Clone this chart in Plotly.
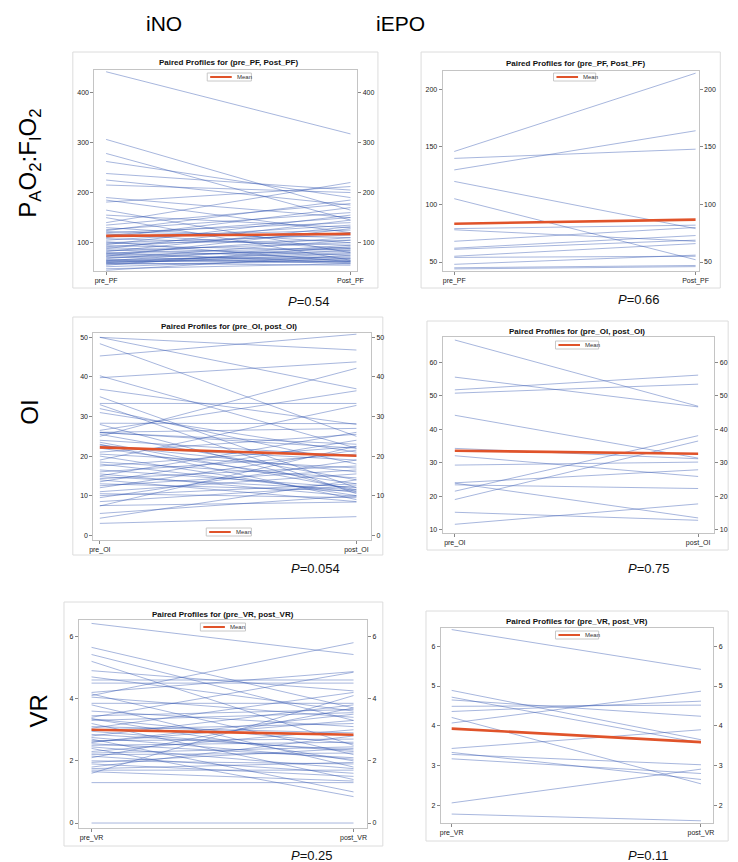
import plotly.graph_objects as go

W, H = 738, 862

# ---------------- data ----------------
col_headers = ["iNO", "iEPO"]
row_labels = ["P<sub>A</sub>O<sub>2</sub>:F<sub>I</sub>O<sub>2</sub>", "OI", "VR"]

pf_labels = ["pre_PF", "Post_PF"]
oi_labels = ["pre_OI", "post_OI"]
vr_labels = ["pre_VR", "post_VR"]

ino_pf_pre = [441, 306, 278, 262, 238, 225, 215, 190, 185, 181, 165, 155, 150, 140, 135,
              130, 126, 124, 122, 120, 118, 115, 112, 110, 108, 105, 102, 100, 98, 96,
              94, 92, 90, 88, 86, 84, 82, 80, 79, 78, 76, 75, 73, 72, 70,
              68, 66, 65, 64, 63, 62, 61, 60, 59, 58, 57, 55, 52, 48, 45]
ino_pf_post = [317, 165, 145, 190, 205, 175, 200, 150, 120, 212, 80, 130, 65, 220, 178,
               100, 160, 185, 110, 140, 88, 150, 125, 170, 95, 135, 62, 115, 105, 155,
               85, 120, 75, 145, 68, 100, 132, 60, 90, 110, 82, 65, 128, 58, 88,
               105, 72, 62, 95, 80, 64, 70, 85, 55, 78, 62, 92, 68, 58, 75]
ino_pf_mean = [113.5, 117.5]

epo_pf_pre = [146, 140, 130, 120, 105, 79, 78, 68, 62, 61, 55, 54, 48, 45, 44]
epo_pf_post = [214, 148, 164, 79, 52, 82, 68, 80, 73, 69, 66, 55, 56, 47, 46]
epo_pf_mean = [83.3, 86.8]

ino_oi_pre = [50.0, 50.0, 48.4, 45.3, 40.3, 39.8, 36.9, 35.0, 33.3, 33.0, 32.0, 31.0, 28.3,
              28.0, 26.5, 25.9, 25.5, 25.0, 23.0, 22.5, 22.0, 21.0, 20.0, 19.0, 18.5, 17.5,
              16.5, 15.0, 14.8, 14.3, 14.0, 13.5, 12.5, 12.0, 11.0, 10.5, 10.0, 9.5, 8.5,
              7.5, 7.4, 5.5, 4.3, 3.0, 26.0, 24.0, 23.5, 22.8, 20.5, 18.0, 16.0, 15.5,
              13.0, 26.0]
ino_oi_post = [46.8, 37.0, 25.0, 50.8, 22.0, 43.8, 28.0, 12.0, 33.3, 10.5, 18.0, 21.0, 28.2,
               11.0, 36.5, 23.0, 14.0, 42.2, 9.0, 19.0, 13.0, 25.5, 10.0, 32.8, 14.5, 22.4,
               12.0, 26.0, 11.5, 17.5, 8.5, 24.0, 16.5, 21.5, 15.5, 9.5, 13.0, 19.0, 12.5,
               8.4, 22.5, 10.0, 14.0, 4.7, 27.0, 20.0, 11.5, 16.0, 17.0, 10.8, 20.5, 9.8,
               11.2, 22.0]
ino_oi_mean = [22.2, 20.1]

epo_oi_pre = [66.7, 55.6, 51.8, 50.8, 44.2, 34.3, 32.1, 29.3, 24.0, 23.9, 23.4, 21.5, 19.0, 15.2, 11.6]
epo_oi_post = [46.9, 46.7, 56.2, 53.5, 31.4, 31.2, 25.9, 30.2, 27.9, 13.5, 22.3, 38.1, 36.5, 12.8, 17.7]
epo_oi_mean = [33.6, 32.7]

ino_vr_pre = [6.42, 5.65, 5.42, 5.20, 4.90, 4.70, 4.60, 4.50, 4.20, 4.15, 4.10, 3.85, 3.80,
              3.60, 3.40, 3.35, 3.30, 3.20, 3.10, 3.00, 2.95, 2.80, 2.70, 2.65, 2.60, 2.55,
              2.50, 2.40, 2.30, 2.20, 2.15, 2.10, 2.00, 1.95, 1.90, 1.80, 1.70, 1.65, 1.60,
              1.30, 0.00, 3.45, 3.35, 2.75, 2.60, 2.45, 2.25, 1.75, 3.05, 4.05, 2.85]
ino_vr_post = [5.42, 3.70, 3.30, 2.50, 4.25, 3.60, 4.60, 4.50, 4.87, 2.20, 5.80, 3.85, 1.80,
               3.10, 4.85, 2.00, 3.55, 1.40, 2.90, 3.20, 2.30, 3.80, 1.00, 2.70, 3.50, 2.10,
               2.60, 0.85, 3.00, 2.25, 1.60, 3.70, 1.90, 2.40, 1.50, 2.80, 1.70, 1.35, 4.10,
               1.30, 0.00, 3.65, 2.55, 2.05, 3.30, 1.75, 2.45, 1.95, 4.20, 3.40, 2.35]
ino_vr_mean = [3.00, 2.84]

epo_vr_pre = [6.42, 4.89, 4.72, 4.65, 4.49, 4.36, 4.21, 4.07, 3.43, 3.33, 3.28, 3.17, 2.06, 1.78]
epo_vr_post = [5.42, 3.65, 3.57, 4.24, 4.52, 4.62, 2.54, 4.87, 3.90, 2.65, 3.02, 2.80, 2.91, 1.61]
epo_vr_mean = [3.93, 3.59]

p_values = ["0.54", "0.66", "0.054", "0.75", "0.25", "0.11"]

pf_ticks = [100, 200, 300, 400]
epo_pf_ticks = [50, 100, 150, 200]
oi_ticks = [0, 10, 20, 30, 40, 50]
epo_oi_ticks = [10, 20, 30, 40, 50, 60]
vr_ticks = [0, 2, 4, 6]
epo_vr_ticks = [2, 3, 4, 5, 6]

panels_data = [
    dict(pre=ino_pf_pre, post=ino_pf_post, mean=ino_pf_mean, labels=pf_labels, ticks=pf_ticks,
         title="Paired Profiles for (pre_PF, Post_PF)", p=p_values[0]),
    dict(pre=epo_pf_pre, post=epo_pf_post, mean=epo_pf_mean, labels=pf_labels, ticks=epo_pf_ticks,
         title="Paired Profiles for (pre_PF, Post_PF)", p=p_values[1]),
    dict(pre=ino_oi_pre, post=ino_oi_post, mean=ino_oi_mean, labels=oi_labels, ticks=oi_ticks,
         title="Paired Profiles for (pre_OI, post_OI)", p=p_values[2]),
    dict(pre=epo_oi_pre, post=epo_oi_post, mean=epo_oi_mean, labels=oi_labels, ticks=epo_oi_ticks,
         title="Paired Profiles for (pre_OI, post_OI)", p=p_values[3]),
    dict(pre=ino_vr_pre, post=ino_vr_post, mean=ino_vr_mean, labels=vr_labels, ticks=vr_ticks,
         title="Paired Profiles for (pre_VR, post_VR)", p=p_values[4]),
    dict(pre=epo_vr_pre, post=epo_vr_post, mean=epo_vr_mean, labels=vr_labels, ticks=epo_vr_ticks,
         title="Paired Profiles for (pre_VR, post_VR)", p=p_values[5]),
]

# ---------------- layout geometry (pixels) ----------------
geom = [
    dict(plot=(84, 62, 352, 263), outer=(62, 44, 373, 280), xr=[-0.048, 1.028], yr=[43.5, 444.5],
         title=(221, 55), leg=(199, 65, 244, 73), pxy=(280, 293)),
    dict(plot=(439, 63, 700, 263), outer=(417, 44, 722, 280), xr=[-0.048, 1.013], yr=[42.2, 215.9],
         title=(574, 56), leg=(552, 65, 595, 73), pxy=(617, 291)),
    dict(plot=(83, 325, 366, 532), outer=(62, 309, 378, 547), xr=[-0.025, 1.057], yr=[-1.2, 51.1],
         title=(221, 318), leg=(198, 520, 244, 528), pxy=(283, 560)),
    dict(plot=(439, 329, 716, 525), outer=(423, 313, 730, 542), xr=[-0.05, 1.067], yr=[9.0, 67.6],
         title=(576, 323), leg=(554, 333, 598, 341), pxy=(627, 560)),
    dict(plot=(68, 612, 362, 820), outer=(53, 594, 378, 838), xr=[-0.049, 1.052], yr=[-0.16, 6.53],
         title=(215, 606), leg=(192, 615, 238, 623), pxy=(283, 847)),
    dict(plot=(437, 620, 715, 815), outer=(422, 603, 730, 833), xr=[-0.044, 1.05], yr=[1.555, 6.46],
         title=(576, 613), leg=(554, 623, 598, 631), pxy=(627, 847)),
]

FONT = "Liberation Sans, Arial, sans-serif"
LINE_COLOR = "rgba(45,80,175,0.42)"
MEAN_COLOR = "#e0532a"
TICK_FONT = dict(size=7, color="#222222", family=FONT)


def px(x):
    return x / W


def py(y):
    return 1 - y / H


fig = go.Figure()
layout = dict(
    width=W, height=H, autosize=False,
    margin=dict(l=0, r=0, t=0, b=0),
    paper_bgcolor="white", plot_bgcolor="white",
    showlegend=False,
    font=dict(family=FONT, color="#222222"),
)
shapes = []
annotations = []

for i, (d, g) in enumerate(zip(panels_data, geom)):
    n = i + 1
    xa = "x" if n == 1 else f"x{n}"
    ya = "y" if n == 1 else f"y{n}"
    yr_name = f"y{n + 6}"
    l, t, r, b = g["plot"]
    cats = d["labels"]

    for a, bb in zip(d["pre"], d["post"]):
        fig.add_trace(go.Scatter(x=cats, y=[a, bb], mode="lines",
                                 line=dict(color=LINE_COLOR, width=1),
                                 xaxis=xa, yaxis=ya, hoverinfo="skip"))
    fig.add_trace(go.Scatter(x=cats, y=d["mean"], mode="lines",
                             line=dict(color=MEAN_COLOR, width=2.6),
                             xaxis=xa, yaxis=ya, name="Mean"))
    # invisible trace so the right-hand axis is drawn
    fig.add_trace(go.Scatter(x=cats, y=d["mean"], mode="lines", opacity=0,
                             line=dict(width=0), xaxis=xa, yaxis=yr_name, hoverinfo="skip"))

    axkey = "xaxis" if n == 1 else f"xaxis{n}"
    aykey = "yaxis" if n == 1 else f"yaxis{n}"
    layout[axkey] = dict(
        domain=[px(l), px(r)], anchor=ya, type="category", categoryorder="array",
        categoryarray=cats, range=g["xr"], showgrid=False, zeroline=False,
        showline=True, linecolor="#c4c4c4", linewidth=1, mirror=True,
        ticks="outside", ticklen=3, tickcolor="#888", tickfont=TICK_FONT,
    )
    layout[aykey] = dict(
        domain=[py(b), py(t)], anchor=xa, range=g["yr"], showgrid=False, zeroline=False,
        showline=True, linecolor="#c4c4c4", linewidth=1, mirror=True,
        ticks="outside", ticklen=3, tickcolor="#888", tickvals=d["ticks"],
        tickfont=TICK_FONT,
    )
    layout[f"yaxis{n + 6}"] = dict(
        overlaying=ya, side="right", anchor=xa, range=g["yr"], showgrid=False,
        zeroline=False, showline=False, ticks="outside", ticklen=3, tickcolor="#888",
        tickvals=d["ticks"], tickfont=TICK_FONT,
    )

    # outer panel frame
    ol, ot, orr, ob = g["outer"]
    shapes.append(dict(type="rect", xref="paper", yref="paper",
                       x0=px(ol), x1=px(orr), y0=py(ob), y1=py(ot),
                       line=dict(color="#dcdcdc", width=1), fillcolor="rgba(0,0,0,0)",
                       layer="below"))
    # title
    tx, ty = g["title"]
    annotations.append(dict(x=px(tx), y=py(ty), xref="paper", yref="paper",
                            text=f"<b>{d['title']}</b>", showarrow=False,
                            xanchor="center", yanchor="middle",
                            font=dict(size=8, color="#111", family=FONT)))
    # legend box
    ll, lt, lr, lb = g["leg"]
    shapes.append(dict(type="rect", xref="paper", yref="paper",
                       x0=px(ll), x1=px(lr), y0=py(lb), y1=py(lt),
                       line=dict(color="#c8c8c8", width=1), fillcolor="white"))
    ym = (lt + lb) / 2
    shapes.append(dict(type="line", xref="paper", yref="paper",
                       x0=px(ll + 3), x1=px(ll + 25), y0=py(ym), y1=py(ym),
                       line=dict(color=MEAN_COLOR, width=2)))
    annotations.append(dict(x=px(ll + 28), y=py(ym), xref="paper", yref="paper",
                            text="Mean", showarrow=False, xanchor="left", yanchor="middle",
                            font=dict(size=6, color="#333", family=FONT)))
    # p value
    pxx, pyy = g["pxy"]
    annotations.append(dict(x=px(pxx), y=py(pyy), xref="paper", yref="paper",
                            text=f"<i>P</i>={d['p']}", showarrow=False,
                            xanchor="left", yanchor="middle", borderpad=0,
                            font=dict(size=13, color="#111", family=FONT)))

# column headers
for txt, cx in zip(col_headers, [155, 396]):
    annotations.append(dict(x=px(cx), y=py(15), xref="paper", yref="paper", text=txt,
                            showarrow=False, xanchor="center", yanchor="middle",
                            font=dict(size=21, color="#000", family=FONT)))
# row labels
for txt, (cx, cy) in zip(row_labels, [(17, 155), (17, 404), (27, 703)]):
    annotations.append(dict(x=px(cx), y=py(cy), xref="paper", yref="paper", text=txt,
                            showarrow=False, xanchor="center", yanchor="middle",
                            textangle=-90, font=dict(size=24, color="#000", family=FONT)))

layout["shapes"] = shapes
layout["annotations"] = annotations
fig.update_layout(**layout)
fig.write_html("out.html")
